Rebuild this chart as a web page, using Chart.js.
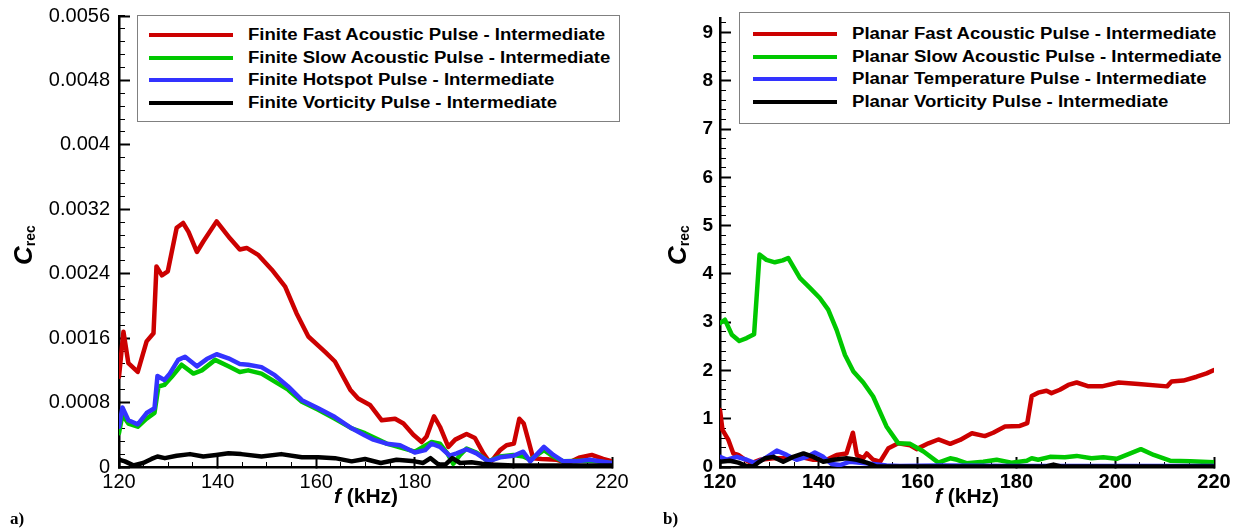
<!DOCTYPE html>
<html>
<head>
<meta charset="UTF-8">
<title>C_rec vs f</title>
<script src="https://cdn.jsdelivr.net/npm/chart.js@4.4.0/dist/chart.umd.min.js"></script>
<style>
  body { margin: 0; background: #fff; font-family: "Liberation Sans", Arial, sans-serif; }
  #wrap { position: relative; width: 1241px; height: 529px; overflow: hidden; background: #fff; }
  canvas { position: absolute; top: 0; }
  .legend { position: absolute; border: 1px solid #808080; background: #fff; box-sizing: border-box; }
  .legend .row { height: 22.67px; display: flex; align-items: center; white-space: nowrap; }
  .legend .swatch { width: 84px; height: 4px; margin-right: 15px; flex: none; }
  .legend .txt { display: inline-block; font-weight: bold; font-size: 16px; transform: scaleX(1.16); transform-origin: 0 50%; }
  .xtitle { position: absolute; font-weight: bold; font-size: 21px; white-space: nowrap; transform: translate(-50%, -50%); line-height: 1; }
  .ytitle { position: absolute; font-weight: bold; white-space: nowrap; transform: translate(-50%, -50%) rotate(-90deg); line-height: 1; }
  .ytitle i { font-size: 26px; }
  .ytitle sub { font-size: 14px; font-style: normal; vertical-align: -3px; }
  .panel { position: absolute; font-family: "Liberation Serif", "Times New Roman", serif; font-weight: bold; font-size: 17px; line-height: 1; }
</style>
</head>
<body>
<div id="wrap">
  <canvas id="finite" width="640" height="529" style="left:0"></canvas>
  <canvas id="planar" width="601" height="529" style="left:640px"></canvas>
  <div class="legend" id="legFinite" style="left:137px; top:15px; width:483px; height:107px; padding-top:7.7px; padding-left:11px;"></div>
  <div class="legend" id="legPlanar" style="left:739px; top:12px; width:491px; height:112px; padding-top:9.7px; padding-left:13px;"></div>
  <div class="xtitle" style="left:366px; top:495px;"><i>f</i> (kHz)</div>
  <div class="xtitle" style="left:967px; top:495px;"><i>f</i> (kHz)</div>
  <div class="ytitle" style="left:23px; top:245px;"><i>C</i><sub>rec</sub></div>
  <div class="ytitle" style="left:677px; top:245px;"><i>C</i><sub>rec</sub></div>
  <div class="panel" style="left:10px; top:510px;">a)</div>
  <div class="panel" style="left:663px; top:510px;">b)</div>
</div>

<script>
// tick labels
const freqTicks = [120, 140, 160, 180, 200, 220];
const finiteTicks = [0, 0.0008, 0.0016, 0.0024, 0.0032, 0.004, 0.0048, 0.0056];
const planarTicks = [0, 1, 2, 3, 4, 5, 6, 7, 8, 9];

// a) finite pulses
const finiteFastF = [120, 120.9, 121.9, 123.8, 125.6, 127, 127.6, 128.7, 129.9, 131.7, 133, 134.1, 135.8, 137.1, 139.8, 142.5, 144.5, 145.9, 148.3, 151, 153.7, 156, 158.4, 161.8, 163.8, 166.9, 168.5, 170.9, 173.3, 176, 177.7, 179.7, 181.4, 182.4, 183.9, 185.1, 186.8, 188.2, 190.5, 192.2, 193.9, 195.3, 197.3, 198.6, 200.1, 201.2, 202.1, 203, 204, 205.7, 208.8, 211.1, 213.5, 215.9, 218.2, 220];
const finiteFastC = [0.00112, 0.00168, 0.00129, 0.00118, 0.00156, 0.00166, 0.00249, 0.00238, 0.00243, 0.00297, 0.00303, 0.00292, 0.00267, 0.0028, 0.00305, 0.00284, 0.0027, 0.00272, 0.00263, 0.00245, 0.00224, 0.00191, 0.00162, 0.00143, 0.00131, 0.00096, 0.00085, 0.00077, 0.00058, 0.0006, 0.00054, 0.0004, 0.00031, 0.00038, 0.00063, 0.0005, 0.00025, 0.00034, 0.00041, 0.00036, 0.00017, 0.00005, 0.00021, 0.00027, 0.00029, 0.0006, 0.00054, 0.00034, 0.00011, 0.0001, 0.00009, 0.00005, 0.00012, 0.00015, 0.0001, 0.00007];

const finiteSlowF = [120, 120.7, 121.9, 123.8, 125.6, 127.2, 128, 129.2, 130.7, 132.7, 135.1, 136.8, 139.5, 142.2, 144.5, 146.2, 148.9, 151.6, 154.3, 157.1, 160.4, 163.8, 167.2, 169.9, 174.3, 180, 183.4, 185.1, 186.6, 187.8, 189.2, 190.5, 192.5, 194.9, 197.3, 200, 202, 203.4, 206.2, 208.1, 210.1, 215.5, 220];
const finiteSlowC = [0.00042, 0.00065, 0.00054, 0.0005, 0.0006, 0.00067, 0.001, 0.00102, 0.00112, 0.00127, 0.00116, 0.0012, 0.00133, 0.00125, 0.00118, 0.0012, 0.00116, 0.00106, 0.00096, 0.00081, 0.00071, 0.0006, 0.00048, 0.00042, 0.00029, 0.00019, 0.00031, 0.00029, 0.00017, 0.00004, 0.00015, 0.00023, 0.00018, 0.00007, 0.00013, 0.00015, 0.00013, 0.00009, 0.00021, 0.00013, 0.00007, 0.00008, 0.00005];

const finiteHotF = [120, 120.7, 121.9, 123.8, 125.6, 127.2, 127.8, 129.2, 130.3, 132, 133.4, 135.8, 137.8, 139.8, 142.2, 144.5, 146.2, 148.9, 151.6, 154.3, 157.1, 160.4, 163.8, 167.2, 169.9, 171.6, 174.3, 177, 180, 182.1, 183.4, 185.1, 187.1, 188.5, 190.5, 192.5, 194.9, 197.3, 200, 202, 203.4, 206.2, 208.1, 210.1, 212.7, 215.5, 220];
const finiteHotC = [0.0005, 0.00074, 0.00058, 0.00053, 0.00067, 0.00073, 0.00113, 0.00108, 0.00116, 0.00133, 0.00137, 0.00125, 0.00134, 0.0014, 0.00135, 0.00128, 0.00127, 0.00124, 0.00114, 0.001, 0.00083, 0.00073, 0.00062, 0.00048, 0.00039, 0.00034, 0.00029, 0.00027, 0.00018, 0.00021, 0.00029, 0.00025, 0.00014, 0.00017, 0.00022, 0.00017, 0.00007, 0.00012, 0.00014, 0.00019, 0.00007, 0.00025, 0.00015, 0.00007, 0.00007, 0.00009, 0.00005];

const finiteVortF = [120, 121.2, 122.9, 124.9, 126.6, 127.8, 129.3, 131.7, 134.4, 137.1, 139.7, 142.2, 144.8, 148.9, 152.9, 157.1, 160.4, 163.8, 167.2, 169.9, 173.1, 176.3, 180, 181.7, 183.2, 184.8, 186.2, 187.6, 189.2, 191.5, 193.6, 195.5, 200, 205, 210, 215, 220];
const finiteVortC = [0.00009, 0.00007, 0.00002, 0.00005, 0.0001, 0.00013, 0.00011, 0.00014, 0.00016, 0.00013, 0.00015, 0.00017, 0.00016, 0.00013, 0.00016, 0.00012, 0.00012, 0.00011, 0.00007, 0.0001, 0.00005, 0.00009, 0.00007, 0.00005, 0.00011, 0.00003, 0.00003, 0.00011, 0.00005, 0.00006, 0.00004, 0.00003, 0.00002, 0.00002, 0.00002, 0.00002, 0.00002];

// b) planar pulses
const planarFastF = [120, 120.5, 121.7, 122.7, 123.7, 125.1, 126.4, 128.1, 130.8, 133.5, 136.2, 138.9, 141.6, 143.6, 145.6, 146.9, 147.7, 149, 149.7, 151, 152.4, 154.1, 156.1, 158.5, 159.8, 162.2, 164.2, 166.6, 168.6, 171, 173.6, 175.3, 177.7, 180.7, 182.2, 183.1, 184.4, 186.1, 187.1, 188.8, 190.5, 192.2, 194.6, 197.3, 200.7, 204.7, 210.5, 211.4, 213.8, 216.5, 218.5, 220];
const planarFastC = [1.18, 0.77, 0.56, 0.28, 0.25, 0.15, 0.08, 0.15, 0.18, 0.18, 0.21, 0.15, 0.15, 0.25, 0.28, 0.71, 0.25, 0.18, 0.28, 0.15, 0.11, 0.39, 0.49, 0.45, 0.37, 0.49, 0.57, 0.48, 0.56, 0.7, 0.64, 0.71, 0.84, 0.85, 0.91, 1.47, 1.54, 1.58, 1.53, 1.6, 1.7, 1.75, 1.67, 1.67, 1.75, 1.72, 1.67, 1.77, 1.79, 1.87, 1.94, 2.01];

const planarSlowF = [120, 121, 122.4, 123.9, 125.4, 126.9, 128, 129.4, 131.1, 132.7, 133.8, 136.2, 138.2, 140.2, 141.9, 143.6, 145.3, 147, 149, 151, 153.7, 156.1, 158.5, 161.2, 164.2, 166.6, 168, 169.9, 173.3, 176, 179, 182.1, 183.1, 184.4, 186.8, 189.8, 192.2, 195.2, 197.6, 200.3, 205.2, 207.8, 211.1, 215.2, 220];
const planarSlowC = [2.98, 3.05, 2.74, 2.61, 2.67, 2.75, 4.4, 4.29, 4.24, 4.28, 4.33, 3.91, 3.71, 3.5, 3.26, 2.84, 2.32, 1.98, 1.75, 1.46, 0.84, 0.49, 0.48, 0.32, 0.09, 0.18, 0.15, 0.08, 0.11, 0.15, 0.09, 0.13, 0.18, 0.15, 0.21, 0.2, 0.23, 0.18, 0.2, 0.17, 0.37, 0.25, 0.13, 0.12, 0.1];

const planarTempF = [120, 121.4, 123.4, 125.4, 127.1, 129.1, 131.5, 133.5, 135.5, 137.6, 139.2, 140.9, 142.6, 144.3, 146.3, 148.4, 151, 153.7, 156.4, 165, 180, 200, 220];
const planarTempC = [0.21, 0.15, 0.21, 0.15, 0.08, 0.18, 0.34, 0.25, 0.15, 0.21, 0.3, 0.21, 0.06, 0.04, 0.11, 0.09, 0.06, 0.03, 0.02, 0.03, 0.02, 0.02, 0.02];

const planarVortF = [120, 122, 123.7, 125.4, 126.7, 127.7, 129.1, 130.8, 132.8, 134.8, 136.9, 138.9, 140.9, 143, 145.6, 147.7, 149.7, 151.7, 160, 180, 186, 187.5, 189, 200, 220];
const planarVortC = [0.11, 0.13, 0.09, 0.02, 0.01, 0.09, 0.18, 0.21, 0.11, 0.21, 0.28, 0.21, 0.11, 0.15, 0.18, 0.15, 0.09, 0.01, 0.01, 0.01, 0.01, 0.05, 0.01, 0.01, 0.01];

const RED = '#cc0000', GREEN = '#00c800', BLUE = '#3333ff', BLACK = '#000000';
const FONT = '"Liberation Sans", Arial, sans-serif';

function pts(f, c) {
  return f.map((v, i) => ({ x: v, y: c[i] }));
}

function series(label, f, c, color, order) {
  return { label: label, data: pts(f, c), borderColor: color, backgroundColor: color,
           order: order, xAxisID: 'x', yAxisID: 'y' };
}

// positions for the short minor tick marks
function steps(start, stop, step) {
  const out = [];
  for (let i = 0; start + i * step <= stop + step * 1e-6; i++) out.push(start + i * step);
  return out;
}

function makeChart(id, datasets, o) {
  const tickGrid = (len, w) => ({ drawOnChartArea: false, drawTicks: true, tickLength: -len, tickWidth: w, tickColor: '#000' });
  return new Chart(document.getElementById(id), {
    type: 'line',
    data: { datasets: datasets },
    options: {
      responsive: false,
      animation: false,
      layout: { padding: { top: o.top, right: o.right, left: 0, bottom: 0 } },
      elements: {
        point: { radius: 0 },
        line: { borderWidth: 4.5, tension: 0, borderJoinStyle: 'round', borderCapStyle: 'round' }
      },
      plugins: {
        legend: { display: false },
        tooltip: { enabled: false }
      },
      scales: {
        x: {
          type: 'linear', position: 'bottom', weight: 1, min: 120, max: 220,
          afterFit: s => { s.height = 62; s.paddingLeft = 0; s.paddingRight = 0; },
          afterBuildTicks: s => { s.ticks = freqTicks.map(v => ({ value: v })); },
          grid: tickGrid(10, 2),
          border: { color: '#000', width: 2.5 },
          ticks: { color: '#000', padding: 13, maxRotation: 0, autoSkip: false,
                   font: { family: FONT, size: o.xFont, weight: o.weight },
                   callback: v => String(v) }
        },
        xMinor: {
          type: 'linear', position: 'bottom', weight: 0, min: 120, max: 220,
          afterFit: s => { s.height = 0; },
          afterBuildTicks: s => { s.ticks = steps(120, 220, 5).map(v => ({ value: v })); },
          grid: tickGrid(5, 1),
          border: { display: false },
          ticks: { display: false, autoSkip: false }
        },
        y: {
          type: 'linear', position: 'left', weight: 1, min: 0, max: o.yMax,
          afterFit: s => { s.width = o.yWidth; s.paddingTop = 0; s.paddingBottom = 0; },
          afterBuildTicks: s => { s.ticks = o.yTicks.map(v => ({ value: v })); },
          grid: tickGrid(11, 2),
          border: { color: '#000', width: 2.5 },
          ticks: { color: '#000', padding: o.yPad + 11, autoSkip: false,
                   font: { family: FONT, size: o.yFont, weight: o.weight },
                   callback: v => String(v) }
        },
        yMinor: {
          type: 'linear', position: 'left', weight: 0, min: 0, max: o.yMax,
          afterFit: s => { s.width = 0; },
          afterBuildTicks: s => { s.ticks = steps(0, o.yMax, o.yMinor).map(v => ({ value: v })); },
          grid: tickGrid(6, 1),
          border: { display: false },
          ticks: { display: false, autoSkip: false }
        }
      }
    }
  });
}

function buildLegend(chart, el) {
  chart.data.datasets.forEach(ds => {
    const row = document.createElement('div');
    row.className = 'row';
    const sw = document.createElement('span');
    sw.className = 'swatch';
    sw.style.background = ds.borderColor;
    const tx = document.createElement('span');
    tx.className = 'txt';
    tx.textContent = ds.label;
    row.appendChild(sw);
    row.appendChild(tx);
    el.appendChild(row);
  });
}

const finiteChart = makeChart('finite', [
  series('Finite Fast Acoustic Pulse - Intermediate', finiteFastF, finiteFastC, RED, 4),
  series('Finite Slow Acoustic Pulse - Intermediate', finiteSlowF, finiteSlowC, GREEN, 3),
  series('Finite Hotspot Pulse - Intermediate', finiteHotF, finiteHotC, BLUE, 2),
  series('Finite Vorticity Pulse - Intermediate', finiteVortF, finiteVortC, BLACK, 1)
], { top: 16, right: 28, yWidth: 119, yMax: 0.0056, yTicks: finiteTicks, yMinor: 0.00016, yPad: 9,
     xFont: 20, yFont: 20, weight: 'normal' });

const planarChart = makeChart('planar', [
  series('Planar Fast Acoustic Pulse - Intermediate', planarFastF, planarFastC, RED, 4),
  series('Planar Slow Acoustic Pulse - Intermediate', planarSlowF, planarSlowC, GREEN, 3),
  series('Planar Temperature Pulse - Intermediate', planarTempF, planarTempC, BLUE, 2),
  series('Planar Vorticity Pulse - Intermediate', planarVortF, planarVortC, BLACK, 1)
], { top: 18, right: 27, yWidth: 80, yMax: 9.3, yTicks: planarTicks, yMinor: 0.2, yPad: 7,
     xFont: 20, yFont: 19, weight: 'bold' });

buildLegend(finiteChart, document.getElementById('legFinite'));
buildLegend(planarChart, document.getElementById('legPlanar'));
</script>
</body>
</html>
